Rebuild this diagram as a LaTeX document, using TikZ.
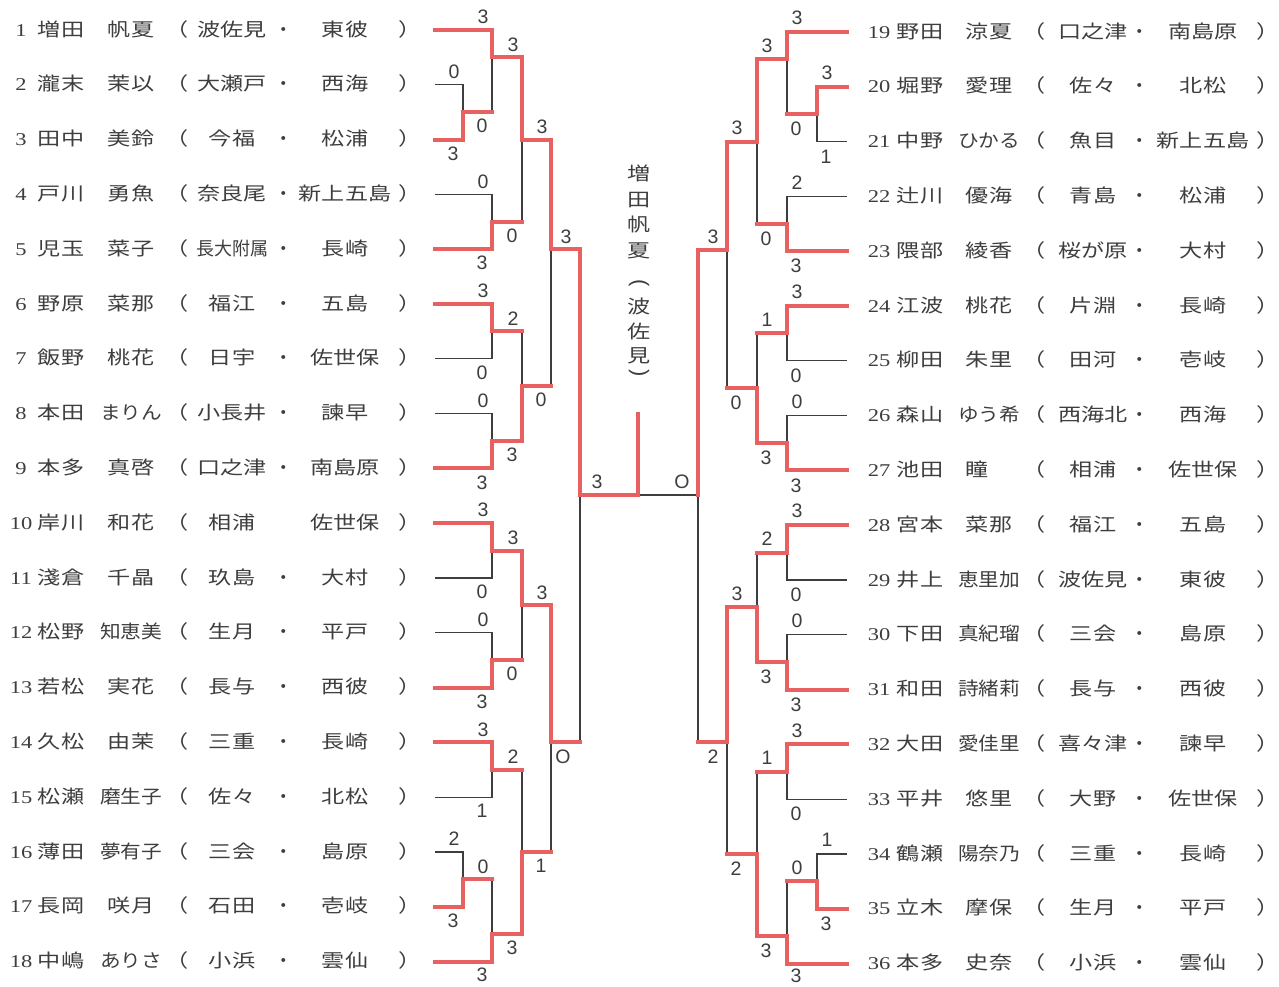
\documentclass[tikz,border=0pt]{standalone}
\usepackage{graphicx}
\usepackage{fontspec}
\setmainfont{Liberation Serif}
\newfontfamily\jpfont{Noto Sans CJK JP}
\newfontfamily\sansnum{Liberation Sans}
\definecolor{winred}{RGB}{232,96,96}
\definecolor{inkgray}{RGB}{62,62,62}
% wide set text, squeezed to a maximal width
\newsavebox{\widebox}
\newcommand{\wide}[2]{\sbox{\widebox}{#2}\pgfmathsetmacro{\widef}{min(1.25,#1/\the\wd\widebox)}\scalebox{\widef}[1]{\usebox{\widebox}}}
\tikzset{
  win/.style={line width=4pt, draw=winred, line cap=rect},
  lose/.style={line width=1.2pt, draw=inkgray},
  entry/.style={inner sep=0pt, text=inkgray, text height=15.5pt, text depth=1.5pt,
    font=\jpfont\fontsize{18.5}{20}\selectfont},
  seed/.style={entry, font=\fontsize{18}{20}\selectfont},
  score/.style={inner sep=0pt, text=inkgray, font=\sansnum\fontsize{19.5}{20}\selectfont},
  paren/.style={inner sep=0pt, text=inkgray, font=\sansnum\fontsize{22}{24}\selectfont, rotate=-90},
}
\begin{document}
\begin{tikzpicture}[x=1pt,y=-1pt]
\useasboundingbox (0,0) rectangle (1279,986);
\fill[white] (0,0) rectangle (1279,986);

% players, left block
\foreach \i/\sur/\giv/\sa/\sb in {1/増田/帆夏/波佐見/東彼, 2/瀧末/茉以/大瀬戸/西海,
  3/田中/美鈴/今福/松浦, 4/戸川/勇魚/奈良尾/新上五島, 5/児玉/菜子/長大附属/長崎,
  6/野原/菜那/福江/五島, 7/飯野/桃花/日宇/佐世保, 8/本田/まりん/小長井/諫早,
  9/本多/真啓/口之津/南島原, 10/岸川/和花/相浦/佐世保, 11/淺倉/千晶/玖島/大村,
  12/松野/知恵美/生月/平戸, 13/若松/実花/長与/西彼, 14/久松/由茉/三重/長崎,
  15/松瀬/磨生子/佐々/北松, 16/薄田/夢有子/三会/島原, 17/長岡/咲月/石田/壱岐,
  18/中嶋/ありさ/小浜/雲仙}{
  \pgfmathsetmacro{\yy}{30+54.8*(\i-1)}
  \coordinate (p\i) at (435,\yy);
  \node[seed] (seed\i) at (21,\yy-1) {\wide{100pt}{\i}};
  \node[entry] (sur\i) at (61,\yy-1) {\wide{100pt}{\sur}};
  \node[entry] (giv\i) at (131,\yy-1) {\wide{62pt}{\giv}};
  \node[entry] (lp\i) at (177.5,\yy-1) {\wide{100pt}{（}};
  \node[entry] (sa\i) at (232,\yy-1) {\wide{72pt}{\sa}};
  \ifnum\i=10 \else \node[entry] (dot\i) at (284,\yy-1) {・}; \fi
  \node[entry] (sb\i) at (345,\yy-1) {\wide{100pt}{\sb}};
  \node[entry] (rp\i) at (410.5,\yy-1) {\wide{100pt}{）}};
}

% players, right block
\foreach \i/\sur/\giv/\sa/\sb in {19/野田/涼夏/口之津/南島原, 20/堀野/愛理/佐々/北松,
  21/中野/ひかる/魚目/新上五島, 22/辻川/優海/青島/松浦, 23/隈部/綾香/桜が原/大村,
  24/江波/桃花/片淵/長崎, 25/柳田/朱里/田河/壱岐, 26/森山/ゆう希/西海北/西海,
  27/池田/瞳\phantom{瞳}/相浦/佐世保, 28/宮本/菜那/福江/五島, 29/井上/恵里加/波佐見/東彼,
  30/下田/真紀瑠/三会/島原, 31/和田/詩緒莉/長与/西彼, 32/大田/愛佳里/喜々津/諫早,
  33/平井/悠里/大野/佐世保, 34/鶴瀬/陽奈乃/三重/長崎, 35/立木/摩保/生月/平戸,
  36/本多/史奈/小浜/雲仙}{
  \pgfmathsetmacro{\yy}{32+54.8*(\i-19)}
  \coordinate (p\i) at (847,\yy);
  \node[seed] (seed\i) at (879,\yy-1) {\wide{100pt}{\i}};
  \node[entry] (sur\i) at (920,\yy-1) {\wide{100pt}{\sur}};
  \node[entry] (giv\i) at (989,\yy-1) {\wide{62pt}{\giv}};
  \node[entry] (lp\i) at (1034.5,\yy-1) {\wide{100pt}{（}};
  \node[entry] (sa\i) at (1093,\yy-1) {\wide{72pt}{\sa}};
  \node[entry] (dot\i) at (1140,\yy-1) {・};
  \node[entry] (sb\i) at (1203,\yy-1) {\wide{100pt}{\sb}};
  \node[entry] (rp\i) at (1268.5,\yy-1) {\wide{100pt}{）}};
}

% match points, left
\coordinate (lq1) at (463,112.2);
\coordinate (lq2) at (463,879.4);
\coordinate (l1a) at (492,57.4);
\coordinate (l1b) at (492,221.8);
\coordinate (l1c) at (492,331.4);
\coordinate (l1d) at (492,441);
\coordinate (l1e) at (492,550.6);
\coordinate (l1f) at (492,660.2);
\coordinate (l1g) at (492,769.8);
\coordinate (l1h) at (492,934.2);
\coordinate (l2a) at (522,139.6);
\coordinate (l2b) at (522,386.2);
\coordinate (l2c) at (522,605.4);
\coordinate (l2d) at (522,852);
\coordinate (l3a) at (551,249.2);
\coordinate (l3b) at (551,742.4);
\coordinate (l4) at (580,495);
\coordinate (fin) at (638,413.6);
% match points, right
\coordinate (rq1) at (817,114.2);
\coordinate (rq2) at (817,881.4);
\coordinate (r1a) at (787,59.4);
\coordinate (r1b) at (787,223.8);
\coordinate (r1c) at (787,333.4);
\coordinate (r1d) at (787,443);
\coordinate (r1e) at (787,552.6);
\coordinate (r1f) at (787,662.2);
\coordinate (r1g) at (787,771.8);
\coordinate (r1h) at (787,936.2);
\coordinate (r2a) at (757,141.6);
\coordinate (r2b) at (757,388.2);
\coordinate (r2c) at (757,607.4);
\coordinate (r2d) at (757,854);
\coordinate (r3a) at (727,250);
\coordinate (r3b) at (727,742.4);
\coordinate (r4) at (698,495);

% bracket, thin lines first
\foreach \J/\T/\B in {lq1/p2/p3, lq2/p16/p17, l1a/p1/lq1, l1b/p4/p5, l1c/p6/p7,
  l1d/p8/p9, l1e/p10/p11, l1f/p12/p13, l1g/p14/p15, l1h/lq2/p18, l2a/l1a/l1b,
  l2b/l1c/l1d, l2c/l1e/l1f, l2d/l1g/l1h, l3a/l2a/l2b, l3b/l2c/l2d, l4/l3a/l3b,
  rq1/p20/p21, rq2/p34/p35, r1a/p19/rq1, r1b/p22/p23, r1c/p24/p25, r1d/p26/p27,
  r1e/p28/p29, r1f/p30/p31, r1g/p32/p33, r1h/rq2/p36, r2a/r1a/r1b, r2b/r1c/r1d,
  r2c/r1e/r1f, r2d/r1g/r1h, r3a/r2a/r2b, r3b/r2c/r2d, r4/r3a/r3b}
  \draw[lose] (\T) -- (\J |- \T) -- (\J |- \B) -- (\B);
\draw[lose] (r4) -- (fin |- r4);

% winners' paths
\foreach \J/\W/\N in {lq1/p3/l1a, lq2/p17/l1h, l1a/p1/l2a, l1b/p5/l2a, l1c/p6/l2b,
  l1d/p9/l2b, l1e/p10/l2c, l1f/p13/l2c, l1g/p14/l2d, l1h/p18/l2d, l2a/l1a/l3a,
  l2b/l1d/l3a, l2c/l1e/l3b, l2d/l1h/l3b, l3a/l2a/l4, l3b/l2c/l4,
  rq1/p20/r1a, rq2/p35/r1h, r1a/p19/r2a, r1b/p23/r2a, r1c/p24/r2b, r1d/p27/r2b,
  r1e/p28/r2c, r1f/p31/r2c, r1g/p32/r2d, r1h/p36/r2d, r2a/r1a/r3a, r2b/r1d/r3a,
  r2c/r1f/r3b, r2d/r1h/r3b, r3a/r2a/r4, r3b/r2c/r4}
  \draw[win] (\W) -- (\J |- \W) -- (\J) -- (\N |- \J);
\draw[win] (l4 |- l3a) -- (l4) -- (fin |- l4) -- (fin);
\draw[win] (r4 |- r3a) -- (r4);

% scores
\foreach \x/\y/\s [count=\k] in {454/71.8/0, 453/153.6/3, 454/839/2, 453/920.8/3,
  483/17/3, 482/126.2/0, 483/181.4/0, 482/263.2/3, 483/291/3, 482/372.8/0,
  483/400.6/0, 482/482.4/3, 483/510.2/3, 482/592/0, 483/619.8/0, 482/701.6/3,
  483/729.4/3, 482/811.2/1, 483/866.4/0, 482/975/3,
  513/44.4/3, 512/235.8/0, 513/318.4/2, 512/455/3, 513/537.6/3, 512/674.2/0,
  513/756.8/2, 512/948.2/3, 542/126.6/3, 541/400.2/0, 542/592.4/3, 541/866/1,
  566/237/3, 563/757/O, 597/482/3, 682/482/O,
  827/72.8/3, 826/156.6/1, 827/840/1, 826/923.8/3,
  797/18/3, 796/129.2/0, 797/182.4/2, 796/266.2/3, 797/292/3, 796/375.8/0,
  797/401.6/0, 796/485.4/3, 797/511.2/3, 796/595/0, 797/620.8/0, 796/704.6/3,
  797/730.4/3, 796/814.2/0, 797/867.4/0, 796/976/3,
  767/45.4/3, 766/238.8/0, 767/319.4/1, 766/458/3, 767/538.6/2, 766/677.2/3,
  767/757.8/1, 766/951.2/3, 737/127.6/3, 736/403.2/0, 737/593.4/3, 736/869/2,
  713/237/3, 713/757/2}
  \node[score] (sc\k) at (\x,\y) {\s};

% champion
\foreach \c/\y [count=\k] in {増/173, 田/199, 帆/224, 夏/250, 波/306, 佐/331, 見/355}
  \node[entry] (champ\k) at (639,\y) {\wide{100pt}{\c}};
\node[paren] (champlp) at (639,283) {(};
\node[paren] (champrp) at (639,373) {)};
\end{tikzpicture}
\end{document}
